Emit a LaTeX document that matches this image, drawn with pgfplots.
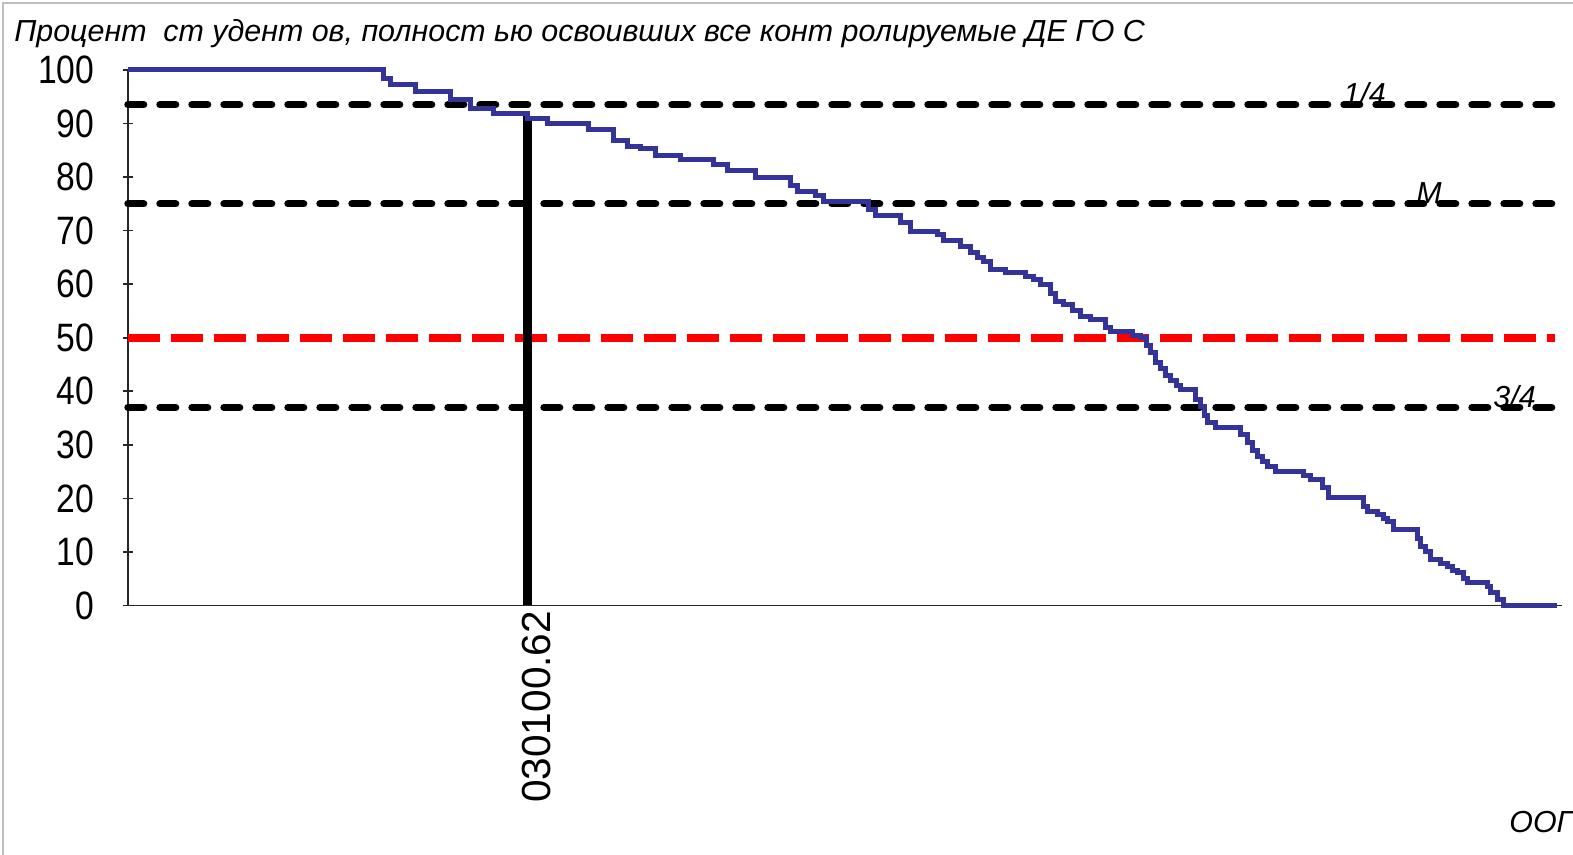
\documentclass[border=0pt]{standalone}
\usepackage{fontspec}
\setmainfont{Liberation Sans}
\newfontfamily\condfont{Liberation Sans}[FakeStretch=0.85]
\usepackage{pgfplots}
\pgfplotsset{compat=1.18}
\definecolor{curveblue}{RGB}{51,51,153}
\begin{document}
\begin{tikzpicture}
\useasboundingbox (-63.9pt,-124.75pt) rectangle (722.6pt,302.75pt);
\begin{axis}[
  at={(0,0)}, anchor=south west,
  scale only axis, width=717.1pt, height=267.75pt,
  xmin=127.8, xmax=1562, ymin=0, ymax=100,
  axis x line=bottom, axis y line=left,
  axis line style={-, line width=0.8pt, black!85},
  clip=false,
  ytick={0,10,...,100},
  xtick={527}, xticklabels={030100.62},
  major x tick style={draw=none},
  tick align=center, major tick length=5pt,
  major y tick style={line width=0.8pt, black!85},
  /pgf/number format/assume math mode=true,
  yticklabel style={font=\condfont\fontsize{19.8pt}{20pt}\selectfont, inner sep=0pt, xshift=-14pt},
  xticklabel style={font=\fontsize{20.3pt}{21pt}\selectfont, rotate=90, anchor=east, inner sep=0pt, yshift=-5pt},
]
\addplot[black, line width=3.5pt, line cap=round, dash pattern=on 8pt off 8pt] coordinates {(127.8,93.5) (1562,93.5)};
\addplot[black, line width=3.5pt, line cap=round, dash pattern=on 8pt off 8pt] coordinates {(127.8,75) (1562,75)};
\addplot[black, line width=3.5pt, line cap=round, dash pattern=on 8pt off 8pt] coordinates {(127.8,37) (1562,37)};
\addplot[red, line width=4pt, dash pattern=on 16pt off 5.5pt] coordinates {(127.8,50) (1555,50)};
\addplot[black, line width=4.5pt] coordinates {(527,0) (527,91.5)};
\addplot[curveblue, line width=2.5pt, const plot mark left] coordinates {
(127.8,100) (383,98.5) (390,97.2) (415,95.9) (450,94.4) (470,92.9) (493,91.8)
(527,91.0) (547,90.1) (588,88.8) (613,86.9) (627,85.8) (640,85.3) (655,84.1)
(680,83.2) (713,82.3) (727,81.3) (755,80.0) (790,78.5) (797,77.4) (815,76.5)
(823,75.4) (868,74.0) (875,72.9) (900,71.5) (910,69.8) (937,69.2) (943,68.1)
(960,67.0) (970,66.0) (977,65.0) (983,64.2) (990,62.7) (1005,62.1) (1025,61.4)
(1033,60.8) (1040,59.9) (1050,58.3) (1055,56.7) (1063,56.2) (1072,55.0) (1080,53.9)
(1090,53.4) (1105,52.0) (1110,51.1) (1132,50.5) (1140,50.0) (1146,48.5) (1150,47.2)
(1155,45.3) (1160,44.3) (1165,43.0) (1170,42.0) (1176,41.0) (1180,40.3) (1195,38.5)
(1200,37.1) (1204,35.5) (1207,34.1) (1215,33.2) (1240,32.0) (1247,30.4) (1252,29.0)
(1257,27.8) (1262,26.8) (1267,25.9) (1275,25.0) (1303,24.3) (1310,23.5) (1322,22.0)
(1328,20.1) (1363,18.5) (1367,17.5) (1377,17.0) (1383,16.2) (1387,15.7) (1393,14.2)
(1417,12.5) (1420,11.0) (1425,10.0) (1430,8.6) (1440,7.8) (1447,7.3) (1452,6.5)
(1457,6.2) (1463,5.0) (1467,4.3) (1487,3.5) (1490,2.4) (1497,1.1) (1503,0) (1557,0)
};
\node[anchor=base west, inner sep=0pt, font=\itshape\fontsize{15.2pt}{16pt}\selectfont] at (axis cs:1343,93.5) {1/4};
\node[anchor=base west, inner sep=0pt, font=\itshape\fontsize{15.2pt}{16pt}\selectfont] at (axis cs:1416,75) {M};
\node[anchor=base west, inner sep=0pt, font=\itshape\fontsize{15.2pt}{16pt}\selectfont] at (axis cs:1493,37) {3/4};
\end{axis}
\node[anchor=base west, inner sep=0pt, font=\itshape\fontsize{15.2pt}{16pt}\selectfont] at (-56.9pt,281.75pt) {Процент\ \ ст удент ов, полност ью освоивших все конт ролируемые ДЕ ГО С};
\node[anchor=base west, inner sep=0pt, font=\itshape\fontsize{15.2pt}{16pt}\selectfont] at (690.6pt,-113.75pt) {ООГ};
\draw[gray!50, line width=0.6pt] (-62.4pt,-124.75pt) -- (-62.4pt,301.25pt) -- (722.6pt,301.25pt);
\end{tikzpicture}
\end{document}
